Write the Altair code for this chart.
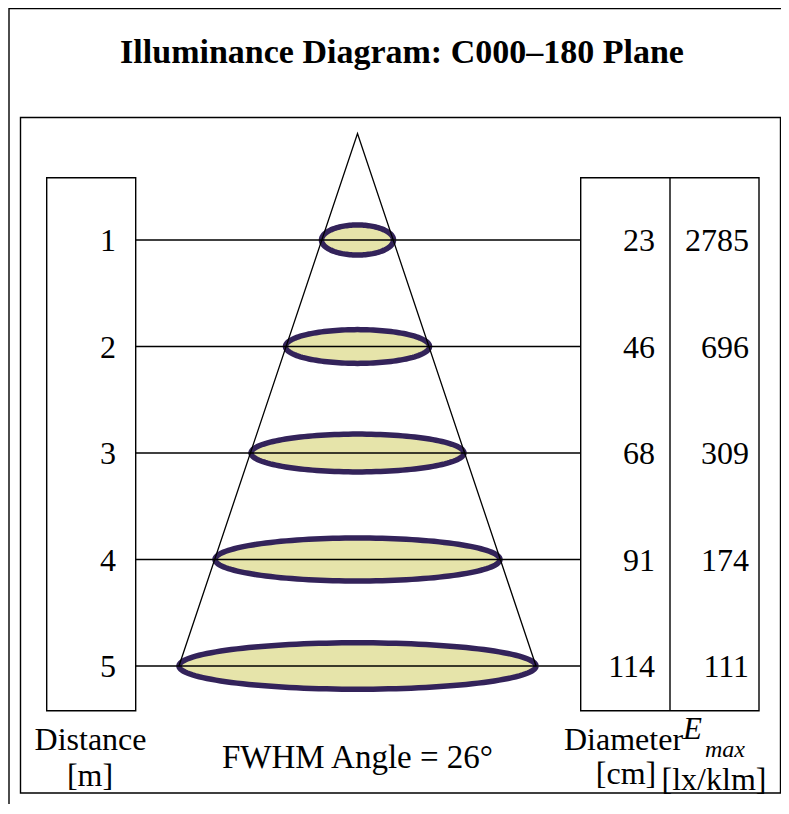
import altair as alt
import numpy as np
import pandas as pd

# ---- chart values ----
distance_m = [1, 2, 3, 4, 5]
diameter_cm = [23, 46, 68, 91, 114]
emax_lx_klm = [2785, 696, 309, 174, 111]
# drawn vertical size of each light-spot ellipse, in metres of the distance axis
ellipse_depth_m = [0.282, 0.317, 0.355, 0.404, 0.436]
fwhm_angle_deg = 26
title_text = "Illuminance Diagram: C000\u2013180 Plane"

# ---- layout ----
W, H = 773, 796
PX_CM = 1.566      # pixels per cm across
CX = 349.5         # pixel of beam axis
PX_M = 106.5       # pixels per metre down
Y0 = 125.5         # pixel of the light source (distance 0)
FONT = "Liberation Serif"
INK = "#000000"
RING = "#33235a"
SPOT = "#e6e4aa"

x_scale = alt.Scale(domain=[-CX / PX_CM, (W - CX) / PX_CM], nice=False, zero=False)
y_scale = alt.Scale(domain=[-Y0 / PX_M, (H - Y0) / PX_M], nice=False, zero=False, reverse=True)

rows = pd.DataFrame({"distance": distance_m, "diameter": diameter_cm, "emax": emax_lx_klm,
                     "depth": ellipse_depth_m})

# ellipse geometry derived from the rows
outline, fill = [], []
for d, D, h in zip(distance_m, diameter_cm, ellipse_depth_m):
    for k, t in enumerate(np.linspace(0, 2 * np.pi, 145)):
        outline.append({"ring": d, "k": k, "x": D * np.cos(t), "y": d + h / 2 * np.sin(t)})
    for t in np.linspace(0, np.pi, 91):
        fill.append({"ring": d, "x": D * np.cos(t), "y1": d - h / 2 * np.sin(t), "y2": d + h / 2 * np.sin(t)})
outline = pd.DataFrame(outline)
fill = pd.DataFrame(fill)

cone = pd.DataFrame({"x": [-diameter_cm[-1], 0, diameter_cm[-1]],
                     "y": [distance_m[-1], 0, distance_m[-1]], "k": [0, 1, 2]})

one = pd.DataFrame({"k": [0]})


def box(x1, x2, y1, y2, sw=1.4):
    return alt.Chart(one).mark_rect(filled=False, stroke=INK, strokeWidth=sw).encode(
        x=alt.value(x1), x2=alt.value(x2), y=alt.value(y1), y2=alt.value(y2))


def vline(x, y1, y2, sw=1.4):
    return alt.Chart(one).mark_rule(color=INK, strokeWidth=sw).encode(
        x=alt.value(x), y=alt.value(y1), y2=alt.value(y2))


def hline(y, x1, x2, sw=1.4):
    return alt.Chart(one).mark_rule(color=INK, strokeWidth=sw).encode(
        y=alt.value(y), x=alt.value(x1), x2=alt.value(x2))


def label(text, x, y, size=32, align="center", weight="normal", style="normal"):
    return alt.Chart(one).mark_text(text=text, font=FONT, fontSize=size, align=align,
                                    baseline="alphabetic", fontWeight=weight, fontStyle=style,
                                    color=INK).encode(x=alt.value(x), y=alt.value(y))


frames = [
    vline(1, 0, H),
    hline(0.5, 1, W),
    box(12.5, 772.5, 109.5, 785),
    box(38.7, 127.7, 169.7, 702.7),
    box(572.7, 751, 169.7, 702.7),
    vline(662, 169.7, 702.7),
]

spots_fill = alt.Chart(fill).mark_area(color=SPOT, opacity=1).encode(
    x=alt.X("x:Q", scale=x_scale, axis=None),
    y=alt.Y("y1:Q", scale=y_scale, axis=None),
    y2="y2:Q",
    detail="ring:N",
)
spots_ring = alt.Chart(outline).mark_line(color=RING, strokeWidth=5.5).encode(
    x=alt.X("x:Q", scale=x_scale, axis=None),
    y=alt.Y("y:Q", scale=y_scale, axis=None),
    detail="ring:N",
    order="k:Q",
)
row_rules = alt.Chart(rows).mark_rule(color=INK, strokeWidth=1.4).encode(
    y=alt.Y("distance:Q", scale=y_scale, axis=None),
    x=alt.value(127.7), x2=alt.value(572.7),
)
cone_lines = alt.Chart(cone).mark_line(color=INK, strokeWidth=1.3).encode(
    x=alt.X("x:Q", scale=x_scale, axis=None),
    y=alt.Y("y:Q", scale=y_scale, axis=None),
    order="k:Q",
)


def column(field, x):
    return alt.Chart(rows).mark_text(font=FONT, fontSize=32, align="right", baseline="alphabetic",
                                     dy=11, color=INK).encode(
        y=alt.Y("distance:Q", scale=y_scale, axis=None), x=alt.value(x), text=f"{field}:Q")


texts = [
    label(title_text, 394, 55, size=34, weight="bold"),
    column("distance", 108),
    column("diameter", 647),
    column("emax", 741),
    label("Distance", 82.5, 742),
    label("[m]", 82, 778),
    label(f"FWHM Angle = {fwhm_angle_deg}\u00b0", 349.5, 760, size=33),
    label("Diameter", 615.5, 742),
    label("[cm]", 618, 776),
    label("E", 675, 731, size=31, align="left", style="italic"),
    label("max", 697, 749, size=24, align="left", style="italic"),
    label("[lx/klm]", 706, 782),
]

chart = alt.layer(*frames, spots_fill, spots_ring, row_rules, cone_lines, *texts).properties(
    width=W, height=H, autosize=alt.AutoSizeParams(type="none"), padding=0,
    background="white",
).configure_view(stroke=None)

chart.save("out.html", embed_options={"renderer": "svg", "actions": False})
